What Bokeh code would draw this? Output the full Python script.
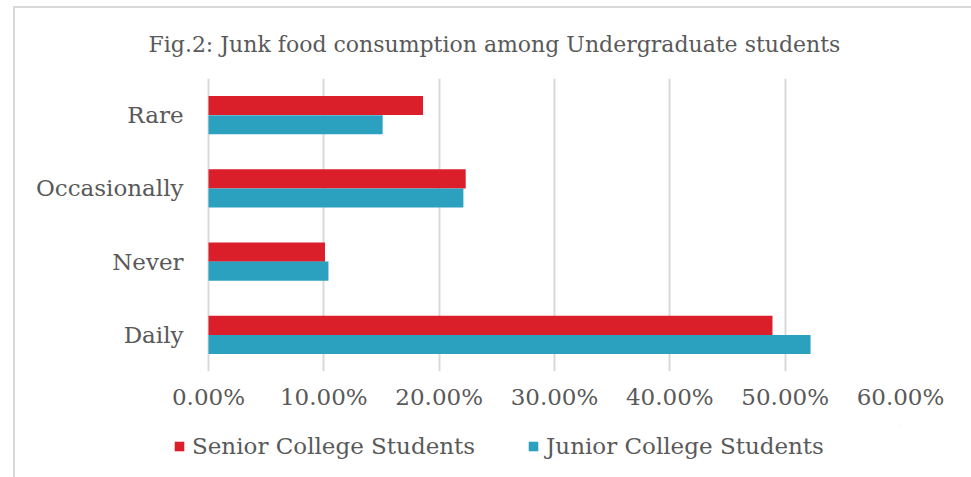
from bokeh.plotting import figure
from bokeh.models import ColumnDataSource, Legend, LegendItem, Title, FactorRange
from bokeh.layouts import column
from bokeh.transform import dodge
from bokeh.embed import file_html
from bokeh.resources import INLINE

categories = ["Daily", "Never", "Occasionally", "Rare"]
senior = [48.9, 10.1, 22.3, 18.6]
junior = [52.2, 10.4, 22.1, 15.1]
series_names = ["Senior College Students", "Junior College Students"]
colors = ["#DA1F2A", "#2CA1BF"]
x_ticks = [0, 10, 20, 30, 40, 50, 60]
title_text = "Fig.2: Junk food consumption among Undergraduate students"

FONT = "DejaVu Serif"
TEXT_COLOR = "#595959"

# frame spans 173..900 px; 0% sits at 208 px
X_START = -35 / (692 / 60)

src = ColumnDataSource(dict(cat=categories, senior=senior, junior=junior))

p = figure(width=956, height=417, y_range=FactorRange(*categories), x_range=(X_START, 60),
           output_backend="svg", toolbar_location=None, title=None,
           min_border_left=158, min_border_right=71, min_border_top=69, min_border_bottom=54)
p.outline_line_color = None

r1 = p.hbar(y=dodge("cat", 0.13, range=p.y_range), right="senior", left=0, height=0.26,
            source=src, color=colors[0], line_color=None)
r2 = p.hbar(y=dodge("cat", -0.13, range=p.y_range), right="junior", left=0, height=0.26,
            source=src, color=colors[1], line_color=None)

p.xaxis.ticker = x_ticks
p.xaxis.major_label_overrides = {t: f"{t:.2f}%" for t in x_ticks}
for ax in (p.xaxis[0], p.yaxis[0]):
    ax.axis_line_color = None
    ax.major_tick_line_color = None
    ax.minor_tick_line_color = None
    ax.major_label_text_font = FONT
    ax.major_label_text_color = TEXT_COLOR
p.xaxis.major_label_text_font_size = "23px"
p.xaxis.major_label_standoff = 6
p.yaxis.major_label_text_font_size = "23px"
p.yaxis.major_label_standoff = -16
p.ygrid.grid_line_color = None
p.xgrid.grid_line_color = "#d9d9d9"
p.xgrid.grid_line_width = 2

title = Title(text=title_text, align="left", offset=-25, standoff=43,
              text_font=FONT, text_font_size="22px", text_font_style="normal",
              text_color=TEXT_COLOR)
p.add_layout(title, "above")

# legend in its own strip below the chart (same frame as the chart)
leg = figure(width=956, height=52, x_range=(0, 1), y_range=(0, 1),
             output_backend="svg", toolbar_location=None,
             min_border_left=158, min_border_right=71, min_border_top=0, min_border_bottom=0)
leg.axis.visible = False
leg.grid.visible = False
leg.outline_line_color = None
lr1 = leg.hbar(y=[5], right=[5], left=[4], height=0.5, color=colors[0], line_color=None)
lr2 = leg.hbar(y=[5], right=[5], left=[4], height=0.5, color=colors[1], line_color=None)
legend = Legend(items=[LegendItem(label=series_names[0], renderers=[lr1]),
                       LegendItem(label=series_names[1], renderers=[lr2])],
                orientation="horizontal", location=(0, 18),
                label_text_font=FONT, label_text_font_size="23px", label_text_color=TEXT_COLOR,
                glyph_width=12, glyph_height=12, label_standoff=7, spacing=52,
                padding=0, margin=0, border_line_color=None, background_fill_alpha=0)
leg.add_layout(legend, "center")

layout = column(p, leg, spacing=0,
                styles={"margin-left": "13px", "margin-top": "6px",
                        "border-left": "2px solid #d9d9d9", "border-top": "2px solid #d9d9d9"})

open("out.html", "w").write(file_html(layout, INLINE))
